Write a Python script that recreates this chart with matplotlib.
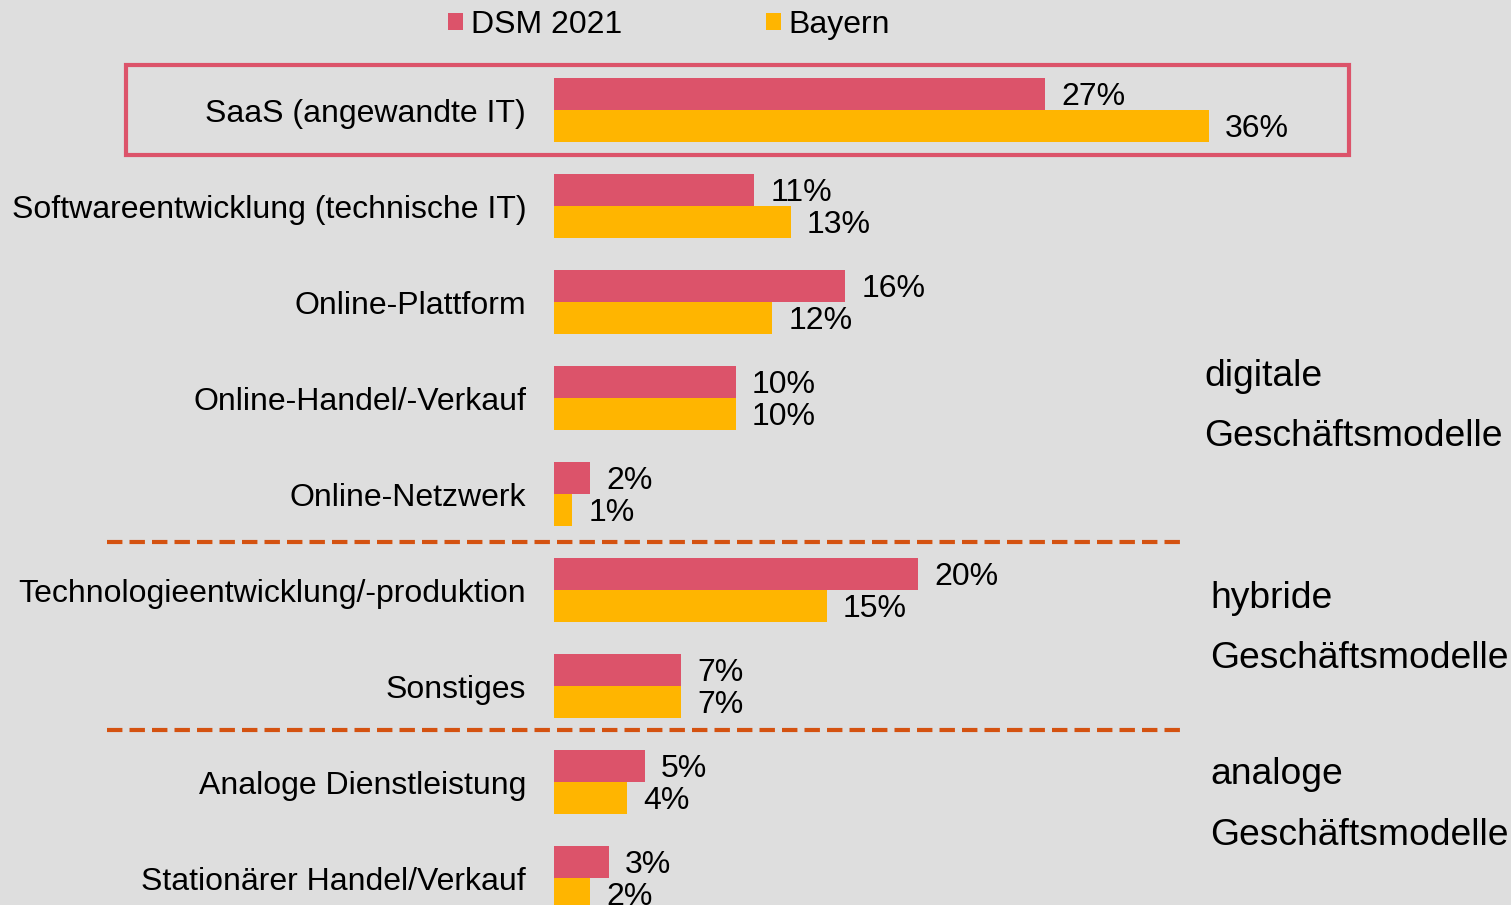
import matplotlib.pyplot as plt
import matplotlib.transforms as mtransforms
from matplotlib.patches import Rectangle
import numpy as np

plt.rcParams['font.family'] = ['Liberation Sans', 'DejaVu Sans']

# Daten
kategorien = ['SaaS (angewandte IT)', 'Softwareentwicklung (technische IT)',
              'Online-Plattform', 'Online-Handel/-Verkauf', 'Online-Netzwerk',
              'Technologieentwicklung/-produktion', 'Sonstiges',
              'Analoge Dienstleistung', 'Stationärer Handel/Verkauf']
dsm_2021 = [27, 11, 16, 10, 2, 20, 7, 5, 3]
bayern = [36, 13, 12, 10, 1, 15, 7, 4, 2]
gruppen = ['digitale\nGeschäftsmodelle', 'hybride\nGeschäftsmodelle',
           'analoge\nGeschäftsmodelle']

bg = '#dedede'
c_dsm = '#dc536a'
c_bay = '#ffb500'
c_line = '#d45210'

W, H = 1511, 905
fig = plt.figure(figsize=(W / 100, H / 100), dpi=100, facecolor=bg)
ax = fig.add_axes([554 / W, 0, 1 - 554 / W, 1])
ax.set_facecolor(bg)

px_pro_prozent = 18.2
ax.set_xlim(0, (W - 554) / px_pro_prozent)
ax.set_ylim((H - 110) / 96, -110 / 96)

y = np.arange(len(kategorien))
h = 32 / 96
ax.barh(y - h / 2, dsm_2021, height=h, color=c_dsm, label='DSM 2021')
ax.barh(y + h / 2, bayern, height=h, color=c_bay, label='Bayern')

for i in range(len(kategorien)):
    ax.annotate(f'{dsm_2021[i]}%', (dsm_2021[i], y[i] - h / 2), xytext=(11.5, -2.5),
                textcoords='offset points', va='center', ha='left', fontsize=23)
    ax.annotate(f'{bayern[i]}%', (bayern[i], y[i] + h / 2), xytext=(11.5, -2.5),
                textcoords='offset points', va='center', ha='left', fontsize=23)

ax.set_yticks(y)
ax.set_yticklabels(kategorien, fontsize=23)
ax.tick_params(axis='y', length=0, pad=20)
ax.set_xticks([])
for s in ax.spines.values():
    s.set_visible(False)

# Trennlinien zwischen den Gruppen
trans = mtransforms.blended_transform_factory(fig.transFigure, ax.transData)
for yy in [4.5, 6.46]:
    ax.plot([107 / W, 1183 / W], [yy, yy], transform=trans, color=c_line,
            lw=3, dashes=(3.7, 1.7), clip_on=False)

# Rahmen um SaaS
ax.add_patch(Rectangle((126 / W, -0.47), (1349 - 126) / W, 0.94, transform=trans,
                       fill=False, edgecolor=c_dsm, lw=3, clip_on=False))

# Gruppenbeschriftungen
for txt, yy, xx in zip(gruppen, [3.09, 5.4, 7.24], [1204, 1210, 1210]):
    ax.text(xx / W, yy, txt, transform=trans, fontsize=26.8, va='center',
            ha='left', linespacing=1.95)

leg = fig.legend(loc='center', bbox_to_anchor=(669 / W, 1 - 25 / H), ncol=2,
                 frameon=False, fontsize=23, handlelength=0.47, handleheight=0.47,
                 handletextpad=0.25, columnspacing=4.5, borderpad=0)

fig.savefig('out.png', dpi=100, facecolor=bg)
